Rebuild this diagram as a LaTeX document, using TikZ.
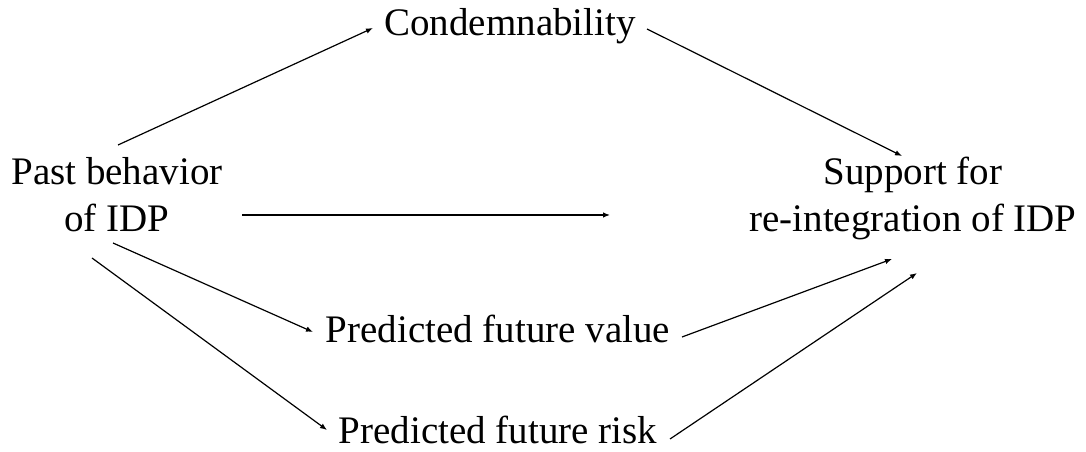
\documentclass[tikz,border=0pt]{standalone}
\usepackage{fontspec}
\setmainfont{Liberation Serif}
\usetikzlibrary{arrows.meta}
\begin{document}
\begin{tikzpicture}[x=1pt,y=1pt,
  lbl/.style={inner sep=0pt, outer sep=0pt, align=center, anchor=base, font=\fontsize{39}{47}\selectfont},
  conn/.style={line width=1.2pt, -{Latex[length=7pt,width=5.5pt]}}]
\useasboundingbox (0,0) rectangle (1086,452);
\node[lbl] (past) at (117,220) {Past behavior\\of IDP};
\node[lbl] (supp) at (913,220) {Support for\\re-integration of IDP};
\node[lbl] (cond) at (510,416) {Condemnability};
\node[lbl] (val) at (498,109) {Predicted future value};
\node[lbl] (risk) at (498,9) {Predicted future risk};
\draw[conn] ([shift={(1,87)}]past.base) -- ([shift={(-137,8)}]cond.base);
\draw[conn] ([shift={(137,7)}]cond.base) -- ([shift={(-11,76)}]supp.base);
\draw[conn] ([shift={(125,17)}]past.base) -- ([shift={(-303,17)}]supp.base);
\draw[conn] ([shift={(-4,-11)}]past.base) -- ([shift={(-185,11)}]val.base);
\draw[conn] ([shift={(-25,-26)}]past.base) -- ([shift={(-171,13)}]risk.base);
\draw[conn] ([shift={(184,6)}]val.base) -- ([shift={(-21,-27)}]supp.base);
\draw[conn] ([shift={(172,4)}]risk.base) -- ([shift={(4,-41)}]supp.base);
\end{tikzpicture}
\end{document}
